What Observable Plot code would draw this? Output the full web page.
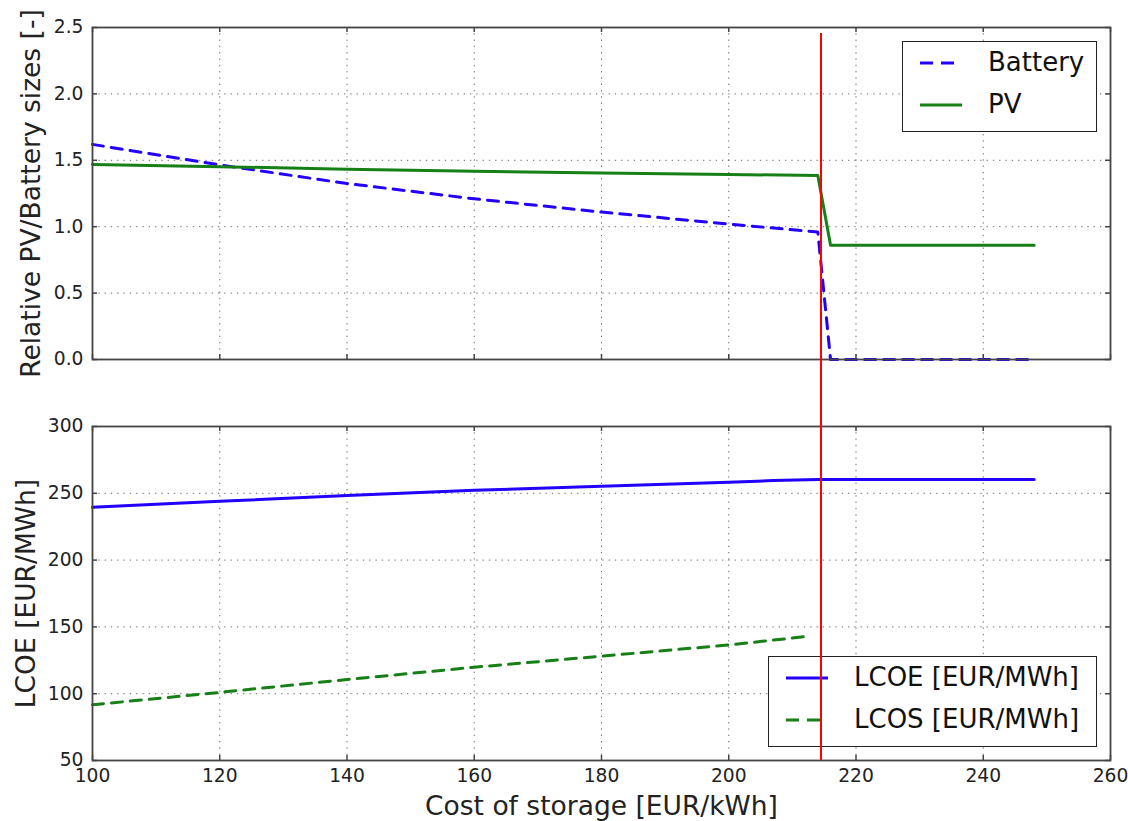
<!DOCTYPE html>
<html>
<head>
<meta charset="utf-8">
<script src="https://cdn.jsdelivr.net/npm/d3@7"></script>
<script src="https://cdn.jsdelivr.net/npm/@observablehq/plot@0.6"></script>
<style>
  html, body { margin: 0; padding: 0; background: #fff; }
  #wrap { position: relative; width: 1128px; height: 821px; font-family: "DejaVu Sans", sans-serif; }
  #wrap svg { position: absolute; left: 0; overflow: visible; }
  .legend { position: absolute; background: #fff; border: 1.5px solid #222; box-sizing: border-box; }
  .legend svg { position: absolute; left: 0; top: 0; }
  .legend span { position: absolute; font-size: 26px; color: #111; line-height: 1; white-space: nowrap; }
</style>
</head>
<body>
<div id="wrap"></div>
<script>
// ---- data ----
const costs      = [100, 120, 140, 160, 180, 200, 214, 216, 248];
const battery    = [1.62, 1.465, 1.325, 1.21, 1.11, 1.02, 0.96, 0, 0];
const pv         = [1.468, 1.452, 1.433, 1.418, 1.405, 1.393, 1.386, 0.861, 0.861];
const lcoeCosts  = [100, 120, 140, 160, 180, 200, 207, 214, 248];
const lcoe       = [239.5, 244, 248.4, 252.2, 255.2, 258.2, 259.5, 260.4, 260.4];
const lcosCosts  = [100, 120, 140, 160, 180, 200, 212];
const lcos       = [91.7, 101, 110.6, 119.8, 128.1, 136.5, 142.7];
const thresholdCost = [214.5];
const xTicks     = [100, 120, 140, 160, 180, 200, 220, 240, 260];
const yTicksTop  = [0, 0.5, 1.0, 1.5, 2.0, 2.5];
const yTicksBot  = [50, 100, 150, 200, 250, 300];
const topLegend  = ["Battery", "PV"];
const botLegend  = ["LCOE [EUR/MWh]", "LCOS [EUR/MWh]"];
const xLabel     = "Cost of storage [EUR/kWh]";
const yLabelTop  = "Relative PV/Battery sizes [-]";
const yLabelBot  = "LCOE [EUR/MWh]";

const BLUE = "#2200ff", GREEN = "#168016", RED = "#ff0000";
const W = 1128, ML = 92, MR = 18;
const FW = W - ML - MR;

const sizeRows = costs.map((c, i) => ({c, battery: battery[i], pv: pv[i]}));
const lcoeRows = lcoeCosts.map((c, i) => ({c, v: lcoe[i]}));
const lcosRows = lcosCosts.map((c, i) => ({c, v: lcos[i]}));

const baseStyle = {fontFamily: "DejaVu Sans", fontSize: "18.7px", color: "#222", background: "transparent", overflow: "visible"};
const gridOpts = {stroke: "#444", strokeOpacity: 0.8, strokeWidth: 1, strokeDasharray: "1.3,5"};
const tickStyle = {stroke: "#444", strokeWidth: 1.5};

function inwardTicks(yTicks, FH) {
  return [
    Plot.tickX(xTicks, {x: d => d, insetTop: FH - 5, ...tickStyle}),
    Plot.tickX(xTicks, {x: d => d, insetBottom: FH - 5, ...tickStyle}),
    Plot.tickY(yTicks, {y: d => d, insetRight: FW - 5, ...tickStyle}),
    Plot.tickY(yTicks, {y: d => d, insetLeft: FW - 5, ...tickStyle})
  ];
}

// ---- top panel ----
const topH = 393, topMT = 27, topMB = 34;
const topFH = topH - topMT - topMB;
const topChart = Plot.plot({
  width: W, height: topH, marginTop: topMT, marginBottom: topMB, marginLeft: ML, marginRight: MR,
  x: {domain: [100, 260], axis: null},
  y: {domain: [0, 2.5]},
  style: baseStyle,
  marks: [
    Plot.gridX(xTicks, gridOpts),
    Plot.gridY(yTicksTop, gridOpts),
    Plot.line(sizeRows, {x: "c", y: "battery", stroke: BLUE, strokeWidth: 3, strokeDasharray: "11,8"}),
    Plot.line(sizeRows, {x: "c", y: "pv", stroke: GREEN, strokeWidth: 3}),
    ...inwardTicks(yTicksTop, topFH),
    Plot.frame({stroke: "#444", strokeWidth: 1.8}),
    Plot.axisY(yTicksTop, {tickSize: 0, tickPadding: 9, tickFormat: d3.format(".1f"), label: null}),
    Plot.text([yLabelTop], {text: d => d, frameAnchor: "left", rotate: -90, dx: -53, lineAnchor: "bottom", textAnchor: "middle", fontSize: 26.5, fill: "#222"})
  ]
});
topChart.style.top = "0px";

// ---- bottom panel ----
const botTop = 393, botH = 428, botMT = 33, botMB = 61;
const botFH = botH - botMT - botMB;
const botChart = Plot.plot({
  width: W, height: botH, marginTop: botMT, marginBottom: botMB, marginLeft: ML, marginRight: MR,
  x: {domain: [100, 260]},
  y: {domain: [50, 300]},
  style: baseStyle,
  marks: [
    Plot.gridX(xTicks, gridOpts),
    Plot.gridY(yTicksBot, gridOpts),
    Plot.line(lcoeRows, {x: "c", y: "v", stroke: BLUE, strokeWidth: 3}),
    Plot.line(lcosRows, {x: "c", y: "v", stroke: GREEN, strokeWidth: 3, strokeDasharray: "11,8"}),
    ...inwardTicks(yTicksBot, botFH),
    Plot.frame({stroke: "#444", strokeWidth: 1.8}),
    Plot.axisY(yTicksBot, {tickSize: 0, tickPadding: 9, label: null}),
    Plot.axisX(xTicks, {tickSize: 0, tickPadding: 8, label: null}),
    Plot.text([yLabelBot], {text: d => d, frameAnchor: "left", rotate: -90, dx: -57.5, lineAnchor: "bottom", textAnchor: "middle", fontSize: 26.5, fill: "#222"}),
    Plot.text([xLabel], {text: d => d, frameAnchor: "bottom", dy: 54, lineAnchor: "bottom", textAnchor: "middle", fontSize: 26.5, fill: "#222"})
  ]
});
botChart.style.top = botTop + "px";

// ---- overlay for the vertical threshold line (drawn on top of legends) ----
const overlay = Plot.plot({
  width: W, height: 821, marginTop: 33, marginBottom: 61, marginLeft: ML, marginRight: MR,
  x: {domain: [100, 260], axis: null},
  style: {background: "transparent", overflow: "visible", pointerEvents: "none"},
  marks: [Plot.ruleX(thresholdCost, {stroke: RED, strokeWidth: 2})]
});
overlay.style.top = "0px";

const wrap = document.getElementById("wrap");
wrap.appendChild(topChart);
wrap.appendChild(botChart);

function makeLegend(left, topPx, width, labels, styles) {
  const div = document.createElement("div");
  div.className = "legend";
  Object.assign(div.style, {left: left + "px", top: topPx + "px", width: width + "px", height: "91px"});
  const ns = "http://www.w3.org/2000/svg";
  const svg = document.createElementNS(ns, "svg");
  svg.setAttribute("width", width);
  svg.setAttribute("height", 91);
  labels.forEach((lab, i) => {
    const y = 21 + i * 42;
    const ln = document.createElementNS(ns, "line");
    ln.setAttribute("x1", 17); ln.setAttribute("x2", 59);
    ln.setAttribute("y1", y); ln.setAttribute("y2", y);
    ln.setAttribute("stroke", styles[i].color);
    ln.setAttribute("stroke-width", 3);
    if (styles[i].dash) ln.setAttribute("stroke-dasharray", styles[i].dash);
    svg.appendChild(ln);
    const sp = document.createElement("span");
    sp.textContent = lab;
    sp.style.left = "85px";
    sp.style.top = (y - 14) + "px";
    div.appendChild(sp);
  });
  div.insertBefore(svg, div.firstChild);
  wrap.appendChild(div);
}
makeLegend(902, 41, 195, topLegend, [{color: BLUE, dash: "13,8"}, {color: GREEN}]);
makeLegend(768, 656, 329, botLegend, [{color: BLUE}, {color: GREEN, dash: "13,8"}]);

wrap.appendChild(overlay);
</script>
</body>
</html>
